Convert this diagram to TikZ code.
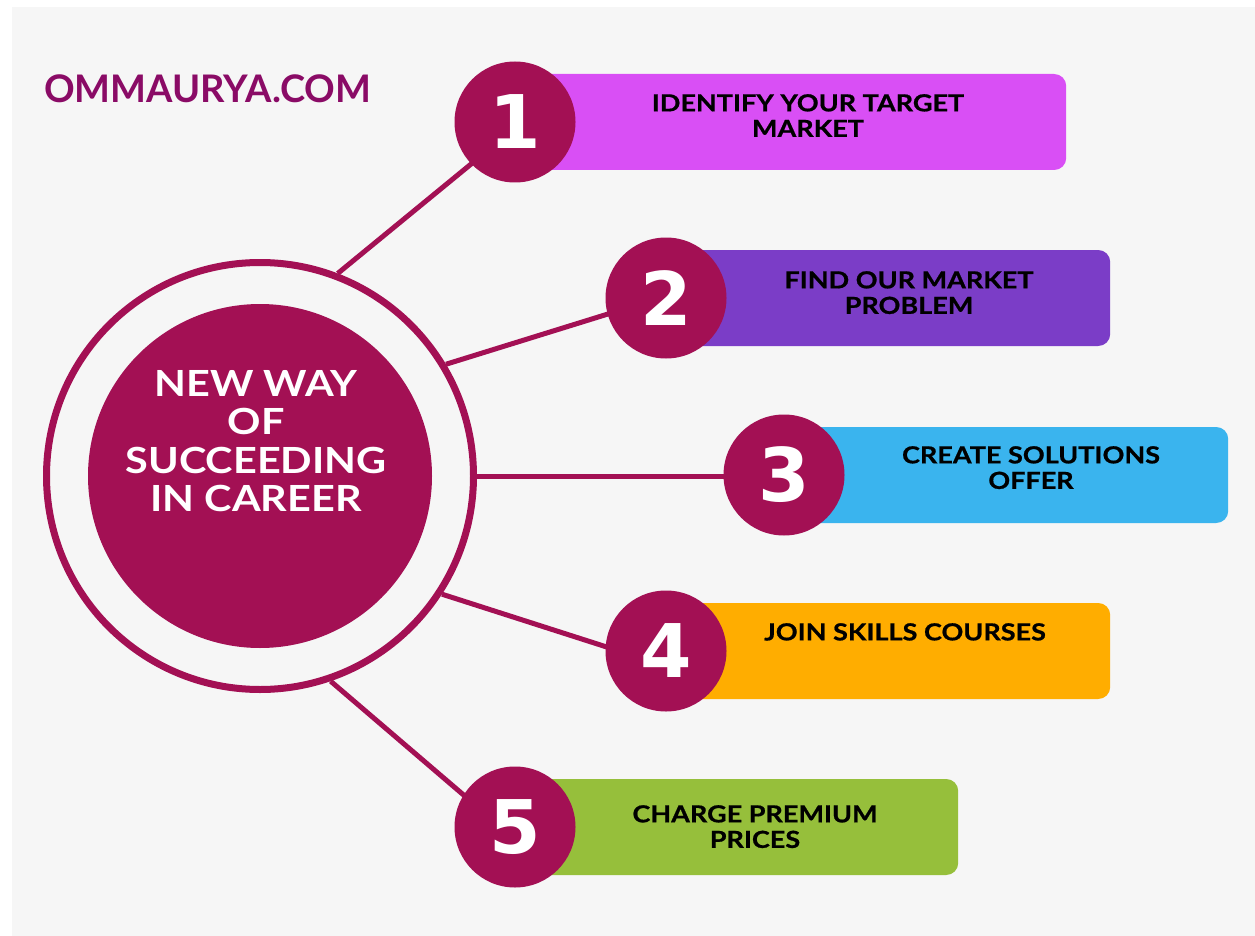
\documentclass[tikz,border=0pt]{standalone}
\usepackage{fontspec}
\setmainfont{Lato}
\newfontfamily\numfont{DejaVu Sans}
\newfontfamily\hfont{Lato}[FakeStretch=1.15]
\newfontfamily\lfont{Lato}[FakeStretch=1.15, FakeBold=0.8]
\definecolor{crim}{HTML}{A31054}
\definecolor{logoc}{HTML}{8A0B66}
\definecolor{bgc}{HTML}{F6F6F6}
\definecolor{boxa}{HTML}{D94FF5}
\definecolor{boxb}{HTML}{7B3DC7}
\definecolor{boxc}{HTML}{3AB4EE}
\definecolor{boxd}{HTML}{FFAD00}
\definecolor{boxe}{HTML}{96BF3B}
\tikzset{
  link/.style={draw=crim, line width=5pt},
  numc/.style={circle, fill=crim, minimum size=121pt, inner sep=0pt, text=white,
    font=\numfont\bfseries\fontsize{74}{74}\selectfont},
  stepbox/.style={rectangle, rounded corners=12pt, minimum height=96pt, inner sep=0pt, anchor=west},
  lbl/.style={anchor=north, inner sep=0pt, align=center, text=black,
    font=\lfont\bfseries\fontsize{23.5}{25.5}\selectfont},
}
\begin{document}
\begin{tikzpicture}[x=1pt,y=-1pt]
\useasboundingbox (0,0) rectangle (1255,936);
\fill[white] (0,0) rectangle (1255,936);
\fill[bgc] (12,7) rectangle (1255,936);
% logo
\node[anchor=west, inner sep=0pt, text=logoc, font=\bfseries\fontsize{38}{38}\selectfont] (logo) at (44,89) {OMMAURYA.COM};
% centre
\node[circle, draw=crim, line width=7pt, minimum size=427pt, inner sep=0pt] (ring) at (260,476) {};
\node[circle, fill=crim, minimum size=344pt, inner sep=0pt] (core) at (260,476) {};
\node[anchor=north, inner sep=0pt, align=center, text=white,
  font=\hfont\bfseries\fontsize{36}{38.5}\selectfont] (title) at (256,370)
  {NEW WAY\\OF\\SUCCEEDING\\IN CAREER};
% number centres
\coordinate (c1) at (515,122);
\coordinate (c2) at (666,298);
\coordinate (c3) at (784,475);
\coordinate (c4) at (666,651);
\coordinate (c5) at (515,827);
% connector ends (hidden under the number discs)
\coordinate (e1) at (515,128);
\coordinate (e2) at (666,296);
\coordinate (e3) at (784,476);
\coordinate (e4) at (666,666);
\coordinate (e5) at (515,839);
% connectors
\draw[link] (ring.69) -- (e1);
\draw[link] (ring.31) -- (e2);
\draw[link] (ring.0) -- (e3);
\draw[link] (ring.-33) -- (e4);
\draw[link] (ring.-71) -- (e5);
% boxes
\node[stepbox, fill=boxa, minimum width=551pt] (b1) at (c1) {};
\node[stepbox, fill=boxb, minimum width=444pt] (b2) at (c2) {};
\node[stepbox, fill=boxc, minimum width=444pt] (b3) at (c3) {};
\node[stepbox, fill=boxd, minimum width=444pt] (b4) at (c4) {};
\node[stepbox, fill=boxe, minimum width=443pt] (b5) at (c5) {};
% labels
\node[lbl] (t1) at (808,94) {IDENTIFY YOUR TARGET\\MARKET};
\node[lbl] (t2) at (909,271) {FIND OUR MARKET\\PROBLEM};
\node[lbl] (t3) at (1031,446) {CREATE SOLUTIONS\\OFFER};
\node[lbl] (t4) at (905,623) {JOIN SKILLS COURSES};
\node[lbl] (t5) at (755,805) {CHARGE PREMIUM\\PRICES};
% numbers
\node[numc] (n1) at (c1) {1};
\node[numc] (n2) at (c2) {2};
\node[numc] (n3) at (c3) {3};
\node[numc] (n4) at (c4) {4};
\node[numc] (n5) at (c5) {5};
\end{tikzpicture}
\end{document}
